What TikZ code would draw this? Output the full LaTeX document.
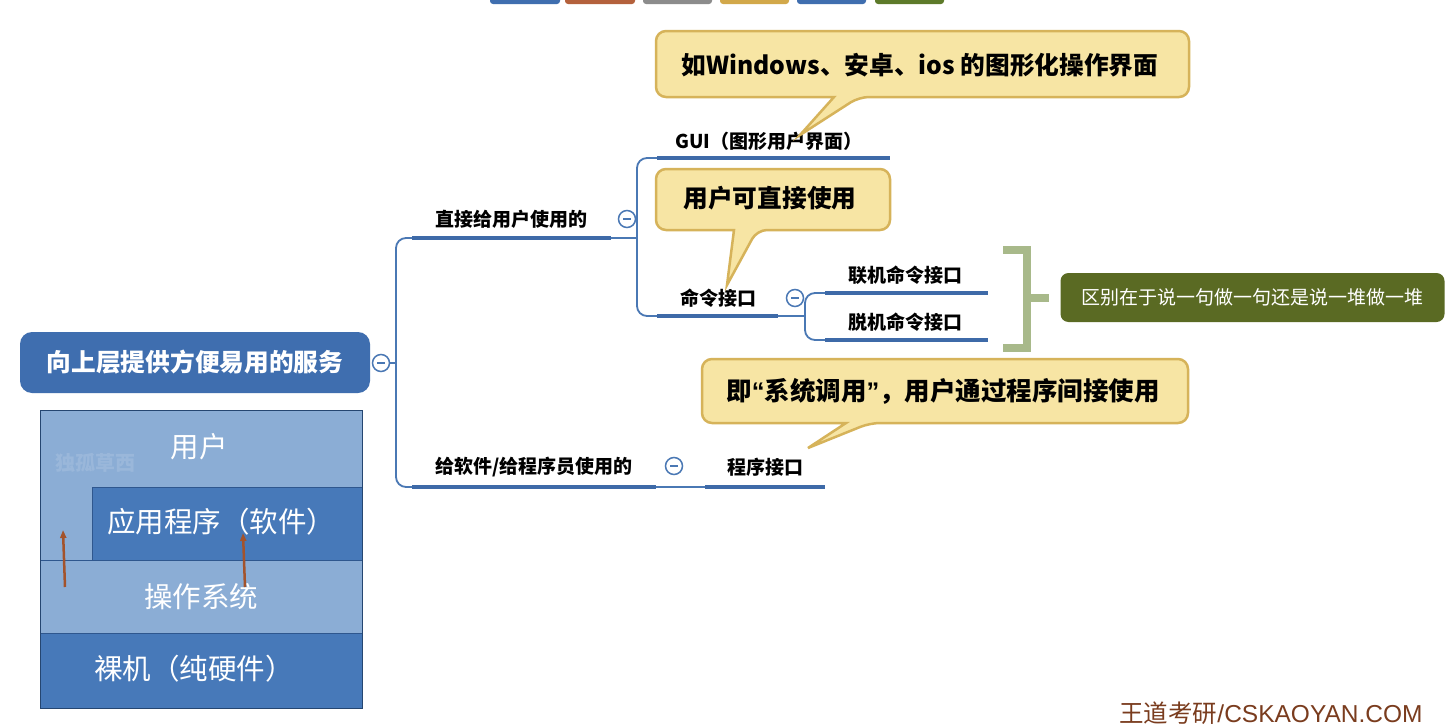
\documentclass[tikz,border=0pt]{standalone}
\usepackage{fontspec}
\setmainfont{Noto Sans CJK SC}
\newfontfamily\latinfont{Liberation Sans}
\usetikzlibrary{arrows.meta}

\definecolor{rootblue}{HTML}{3F6EAF}
\definecolor{lineblue}{HTML}{3E6AA8}
\definecolor{thinblue}{HTML}{4A78B4}
\definecolor{layerlight}{HTML}{8BADD5}
\definecolor{layerdark}{HTML}{4779B9}
\definecolor{layeredge}{HTML}{2F578E}
\definecolor{calloutfill}{HTML}{F7E5A4}
\definecolor{calloutedge}{HTML}{D6B35A}
\definecolor{olive}{HTML}{5A6A23}
\definecolor{bracketgreen}{HTML}{A8B98A}
\definecolor{arrowbrown}{HTML}{A3532C}
\definecolor{footerbrown}{HTML}{7A3C1E}
\definecolor{tabred}{HTML}{B4613C}
\definecolor{tabgray}{HTML}{8C8C8C}
\definecolor{tabgold}{HTML}{D2A84A}
\definecolor{tabgreen}{HTML}{5D7A2A}

\newcommand{\sz}[1]{\fontsize{#1}{#1}\selectfont}

\begin{document}
\begin{tikzpicture}[x=1pt,y=-1pt,
  rootbox/.style={fill=rootblue, rounded corners=12, minimum width=350, minimum height=61,
    text=white, font=\sz{24.7}\bfseries, inner sep=0},
  topic/.style={font=\sz{19}\bfseries, text=black, inner sep=0},
  underline/.style={draw=lineblue, line width=4},
  branch/.style={draw=thinblue, line width=1.8, rounded corners=10},
  collapse/.style={circle, draw=thinblue, line width=1.5, fill=white, inner sep=0,
    minimum size=17, path picture={\draw[thinblue, line width=1.3]
      ([xshift=-4pt]path picture bounding box.center) -- ([xshift=4pt]path picture bounding box.center);}},
  callout/.style={fill=calloutfill, draw=calloutedge, line width=2.5, rounded corners=10},
  callouttext/.style={font=\sz{24.7}\bfseries, inner sep=0},
  layertext/.style={text=white, font=\sz{28.5}, inner sep=0},
  uparrow/.style={draw=arrowbrown, line width=2.5, -{Triangle[length=8pt,width=6pt]}},
  tab/.style={rounded corners=3}
]
\useasboundingbox (0,0) rectangle (1449,728);
\fill[white] (0,0) rectangle (1449,728);

% toolbar tabs along the top edge
\fill[tab, rootblue] (490,-8) rectangle (560,4);
\fill[tab, tabred] (565,-8) rectangle (635,4);
\fill[tab, tabgray] (643,-8) rectangle (712,4);
\fill[tab, tabgold] (720,-8) rectangle (789,4);
\fill[tab, rootblue] (797,-8) rectangle (866,4);
\fill[tab, tabgreen] (875,-8) rectangle (944,4);

% ---------- layered system diagram ----------
\fill[layerlight] (40,410) rectangle (362,560);
\fill[layerdark] (92,487) rectangle (362,560);
\fill[layerlight] (40,560) rectangle (362,633);
\fill[layerdark] (40,633) rectangle (362,708);
\draw[layeredge, line width=0.8] (92,560) -- (92,487) -- (362,487);
\draw[layeredge, line width=0.8] (40,560) -- (362,560);
\draw[layeredge, line width=0.8] (40,633) -- (362,633);
\draw[layeredge!80!black, line width=1] (40,410) rectangle (362,708);

\node[layertext] (user) at (199,447) {用户};
\node[text=white, opacity=0.13, font=\sz{20}\bfseries, inner sep=0] (mark) at (95,463) {独孤草西};
\node[layertext] (app) at (221,522) {应用程序（软件）};
\node[layertext] (os) at (201,597) {操作系统};
\node[layertext] (hw) at (194,669) {裸机（纯硬件）};

\coordinate (a1s) at (65,587);
\coordinate (a1e) at (63,530);
\coordinate (a2s) at (245,587);
\coordinate (a2e) at (243,533);
\draw[uparrow] (a1s) -- (a1e);
\draw[uparrow] (a2s) -- (a2e);

% ---------- mind map ----------
\node[rootbox] (root) at (195,362.5) {向上层提供方便易用的服务};
\node[collapse] (c0) at (381,363) {};

% trunk
\coordinate (t0) at (396,363);
\coordinate (b1l) at (412,238);
\coordinate (b1r) at (611,238);
\coordinate (b2l) at (412,487);
\coordinate (b2r) at (656,487);
\draw[branch] (c0.east) -- (t0);
\draw[branch] (b1l) -- (396,238) -- (396,487) -- (b2l);

% branch: direct use
\node[topic] (direct) at (511,219) {直接给用户使用的};
\draw[underline] (b1l) -- (b1r);
\node[collapse] (c1) at (627,219) {};
\coordinate (guil) at (657,158);
\coordinate (guir) at (890,158);
\coordinate (cmdl) at (657,316);
\coordinate (cmdr) at (778,316);
\draw[branch] (b1r) -- (637,238);
\draw[branch] (guil) -- (637,158) -- (637,316) -- (cmdl);

\node[topic, font=\sz{19}\bfseries] (gui) at (769,141) {GUI（图形用户界面）};
\draw[underline] (guil) -- (guir);
\node[topic] (cmd) at (718,298) {命令接口};
\draw[underline] (cmdl) -- (cmdr);
\node[collapse] (c2) at (795,298) {};

\coordinate (onl) at (825,293);
\coordinate (onr) at (988,293);
\coordinate (offl) at (825,340);
\coordinate (offr) at (988,340);
\draw[branch] (cmdr) -- (805,316);
\draw[branch] (onl) -- (805,293) -- (805,340) -- (offl);
\node[topic] (online) at (905,275) {联机命令接口};
\draw[underline] (onl) -- (onr);
\node[topic] (offline) at (905,322) {脱机命令接口};
\draw[underline] (offl) -- (offr);

% summary bracket and note
\coordinate (brt) at (1003,250);
\coordinate (brb) at (1003,348);
\coordinate (brm) at (1049,298);
\draw[bracketgreen, line width=8] (brt) -- (1027,250) -- (1027,348) -- (brb);
\draw[bracketgreen, line width=8] (1027,298) -- (brm);
\node[fill=olive, rounded corners=8, minimum width=384, minimum height=49, inner sep=0,
  text=white, font=\sz{19}] (note) at (1252.5,297.5) {区别在于说一句做一句还是说一堆做一堆};

% branch: program use
\node[topic] (indirect) at (534,467) {给软件/给程序员使用的};
\draw[underline] (b2l) -- (b2r);
\node[collapse] (c3) at (674,466) {};
\coordinate (pl) at (705,487);
\coordinate (pr) at (825,487);
\draw[branch] (b2r) -- (pl);
\draw[underline] (pl) -- (pr);
\node[topic] (prog) at (765,467) {程序接口};

% ---------- callouts ----------
\coordinate (tip1) at (800,135);
\draw[callout] (656,31) -- (1189,31) -- (1189,97) -- (859,97)
  [sharp corners] -- (tip1) -- (834,97) [rounded corners=10] -- (656,97) -- cycle;
\node[callouttext] (k1) at (920,65) {如Windows、安卓、ios 的图形化操作界面};

\coordinate (tip2) at (727,285);
\draw[callout] (656,169) -- (890,169) -- (890,230) -- (757,230)
  [sharp corners] -- (tip2) -- (734,230) [rounded corners=10] -- (656,230) -- cycle;
\node[callouttext] (k2) at (770,198) {用户可直接使用};

\coordinate (tip3) at (808,448);
\draw[callout] (702,359) -- (1188,359) -- (1188,423) -- (870,423)
  [sharp corners] -- (tip3) -- (846,423) [rounded corners=10] -- (702,423) -- cycle;
\node[callouttext, font=\sz{25.5}\bfseries] (k3) at (943,391)
  {即{\latinfont\bfseries “}系统调用{\latinfont\bfseries ”}，用户通过程序间接使用};

% footer
\node[text=footerbrown, font=\sz{24.5}, inner sep=0] (footer) at (1271,713)
  {王道考研{\latinfont /CSKAOYAN.COM}};
\end{tikzpicture}
\end{document}
